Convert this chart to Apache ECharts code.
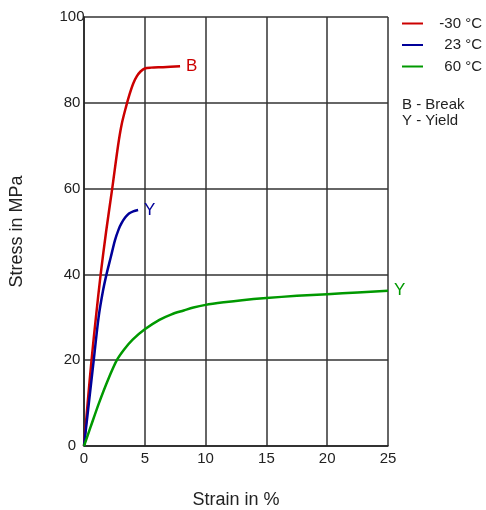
<!DOCTYPE html>
<html>
<head>
<meta charset="utf-8">
<script src="https://cdn.jsdelivr.net/npm/echarts@6/dist/echarts.min.js"></script>
<style>html,body{margin:0;padding:0;background:#fff}#c{width:486px;height:510px}</style>
</head>
<body>
<div id="c"></div>
<script>
var xTicks = [0, 5, 10, 15, 20, 25];
var yTicks = [0, 20, 40, 60, 80, 100];
var seriesNames = ['-30 °C', '23 °C', '60 °C'];
var endMarks = ['B', 'Y', 'Y'];
var noteLines = ['B - Break', 'Y - Yield'];
var redData = [[0,0],[0.3,10],[0.62,20],[0.98,30],[1.37,40],[1.82,50],[2.32,60],[2.8,70],[3.1,75],[3.45,79],[3.75,82],[4.05,84.5],[4.35,86.2],[4.65,87.3],[5.0,88.0],[5.5,88.2],[6.5,88.3],[7.9,88.5]];
var blueData = [[0,0],[0.4,10],[0.8,20],[1.2,30],[1.55,36],[1.85,40],[2.2,44],[2.55,48],[2.85,50.5],[3.1,52],[3.4,53.3],[3.7,54.2],[4.05,54.7],[4.45,55]];
var greenData = [[0,0],[0.55,4.5],[1.23,10],[1.97,15.4],[2.7,20],[3.3,22.5],[4.0,24.8],[5,27.2],[6.2,29.4],[7.2,30.7],[8.2,31.6],[9,32.3],[10,32.9],[11.5,33.5],[13,34],[15,34.5],[17.5,35],[20,35.4],[22.5,35.8],[25,36.2]];
var colors = ['#cc0000', '#000099', '#009900'];
var allData = [redData, blueData, greenData];

var chart = echarts.init(document.getElementById('c'), null, {renderer: 'canvas'});
var font = 'Liberation Sans, Arial, sans-serif';
chart.setOption({
  animation: false,
  textStyle: {fontFamily: font},
  grid: {left: 84, right: 98, top: 17, bottom: 64, containLabel: false, outerBoundsMode: 'none'},
  xAxis: {
    type: 'value', min: 0, max: 25, interval: 5,
    name: 'Strain in %', nameLocation: 'middle', nameGap: 45,
    nameTextStyle: {fontSize: 18, color: '#222', fontFamily: font},
    axisLine: {show: true, lineStyle: {color: '#222', width: 1.5}},
    axisTick: {show: false},
    axisLabel: {fontSize: 15, color: '#222', margin: 5, fontFamily: font},
    splitLine: {show: true, lineStyle: {color: '#333', width: 1.5}}
  },
  yAxis: {
    type: 'value', min: 0, max: 100, interval: 20,
    name: 'Stress in MPa', nameLocation: 'middle', nameGap: 58,
    nameTextStyle: {fontSize: 18, color: '#222', fontFamily: font},
    axisLine: {show: true, lineStyle: {color: '#222', width: 1.5}},
    axisTick: {show: false},
    axisLabel: {fontSize: 15, color: '#222', margin: 12, align: 'center', fontFamily: font},
    splitLine: {show: true, lineStyle: {color: '#333', width: 1.5}}
  },
  legend: {
    orient: 'vertical', left: 402, top: 16, padding: 0, itemWidth: 21, itemHeight: 2, itemGap: 6.5,
    icon: 'rect',
    data: seriesNames,
    formatter: function (n) { return '{a|' + n + '}'; },
    textStyle: {
      fontSize: 15, color: '#222', fontFamily: font,
      rich: {a: {width: 54, align: 'right', fontSize: 15, lineHeight: 17, color: '#222', fontFamily: font}}
    }
  },
  graphic: [{
    type: 'text', left: 402, top: 97,
    style: {text: noteLines.join('\n'), fontSize: 15, lineHeight: 16, fill: '#222', font: '15px ' + font}
  }],
  series: allData.map(function (d, i) {
    return {
      type: 'line', name: seriesNames[i], data: d, showSymbol: false, symbol: 'none',
      smooth: 0.3,
      lineStyle: {color: colors[i], width: 2.5},
      itemStyle: {color: colors[i]},
      endLabel: {show: true, formatter: endMarks[i], color: colors[i], fontSize: 17, distance: 6, fontFamily: font}
    };
  })
});
</script>
</body>
</html>
